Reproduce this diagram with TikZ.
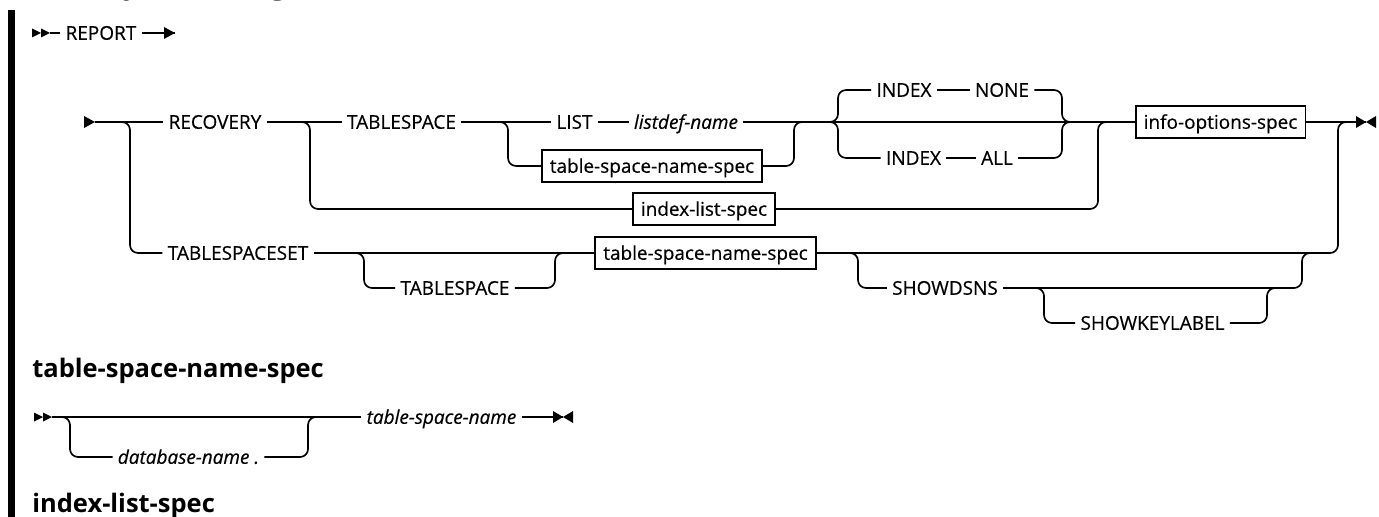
\documentclass[tikz,border=0pt]{standalone}
\usepackage{fontspec}
\setmainfont{Open Sans}
\newfontfamily\railfam{Open Sans}[FakeBold=0.5]
\usepackage{tikz}
\usetikzlibrary{arrows.meta}

\newcommand{\lblfont}{\railfam\fontsize{10.8}{13}\selectfont}
\newcommand{\headfont}{\fontsize{14.5}{17}\selectfont\bfseries}

\tikzset{
  rail/.style={line width=0.95pt, rounded corners=0.16cm},
  kw/.style={font=\lblfont, inner xsep=0.1cm, inner ysep=0pt, text height=7.7pt, text depth=0pt},
  var/.style={kw, font=\lblfont\itshape},
  specbox/.style={draw, line width=0.95pt, font=\lblfont, inner xsep=0.16cm, inner ysep=5.3pt, text height=7.7pt, text depth=0pt},
  head/.style={font=\headfont, anchor=base west, inner sep=0pt},
  fwd/.pic={\fill (-11,-6) -- (0,0) -- (-11,6) -- cycle;},
  twofwd/.pic={\fill (-18,-4.5) -- (-9,0) -- (-18,4.5) -- cycle;
               \fill (-9,-4.5) -- (0,0) -- (-9,4.5) -- cycle;},
  stopmark/.pic={\fill (-10,-6) -- (0,0) -- (-10,6) -- cycle;
                 \fill (10,-6) -- (0,0) -- (10,6) -- cycle;},
}

\begin{document}
\begin{tikzpicture}[x=0.02cm, y=-0.02cm]
  \useasboundingbox (0,0) rectangle (1379,517);

  % page bar and headings
  \fill (8,10) rectangle (15,517);
  \begin{scope}
    \clip (0,0) rectangle (1379,517);
    \node[font=\fontsize{18}{20}\selectfont\bfseries, anchor=base west, inner sep=0pt] (title) at (105,-6) {Syntax diagram};
  \end{scope}
  \node[head] (hspec) at (32,377) {table-space-name-spec};
  \node[head] (hlist) at (32,512) {index-list-spec};

  % REPORT
  \coordinate (s0) at (50,33);
  \coordinate (cont) at (175,33);
  \node[kw] (report) at (101,33) {REPORT};
  \pic at (s0) {twofwd};
  \pic at (cont) {fwd};
  \draw[rail] (s0) -- (report);
  \draw[rail] (report) -- (cont);

  % main row
  \coordinate (s1) at (95,122);
  \pic at (s1) {fwd};
  \node[kw] (recovery) at (215,122) {RECOVERY};
  \node[kw] (ts1) at (401.5,122) {TABLESPACE};
  \node[kw] (list) at (574.5,122) {LIST};
  \node[var] (listdef) at (686,122) {listdef-name};
  \node[specbox] (tsn1) at (652,166) {table-space-name-spec\hspace{0.1cm}};
  \node[kw] (idx1) at (904,90) {INDEX};
  \node[kw] (none) at (1002,90) {NONE};
  \node[kw] (idx2) at (913.5,158) {INDEX};
  \node[kw] (all) at (997,158) {ALL};
  \node[specbox] (ils) at (704,209) {index-list-spec\hspace{0.1cm}};
  \node[specbox] (info) at (1220.5,122) {info-options-spec\hspace{0.05cm}};
  \coordinate (stop1) at (1366,122);
  \pic at (stop1) {stopmark};

  \draw[rail] (s1) -- (recovery);
  \draw[rail] (recovery) -- (ts1);
  \draw[rail] (ts1) -- (list);
  \draw[rail] (list) -- (listdef);
  \draw[rail] (listdef.east) -- (info.west);
  \draw[rail] (info.east) -- (stop1);

  \coordinate (j2) at (300,122);
  \coordinate (j3) at (498,122);
  \coordinate (j4) at (828,122);
  \coordinate (k3) at (794,122);
  \coordinate (k4) at (1062,122);
  \coordinate (k5) at (1098,122);
  \draw[rail] (j3) -- ++(10,0) |- (tsn1.west);
  \draw[rail] (tsn1.east) -| (k3) -- ++(10,0);
  \draw[rail] (j4) -- ++(10,0) |- (idx1.west);
  \draw[rail] (j4) -- ++(10,0) |- (idx2.west);
  \draw[rail] (idx1) -- (none);
  \draw[rail] (idx2) -- (all);
  \draw[rail] (none.east) -| (k4) -- ++(10,0);
  \draw[rail] (all.east) -| (k4) -- ++(10,0);
  \draw[rail] (j2) -- ++(10,0) |- (ils.west);
  \draw[rail] (ils.east) -| (k5) -- ++(10,0);

  % TABLESPACESET row
  \coordinate (j1) at (120,122);
  \node[kw] (tss) at (238,253) {TABLESPACESET};
  \node[kw] (ts2) at (455,288) {TABLESPACE};
  \node[specbox] (tsn2) at (705.5,253) {table-space-name-spec\hspace{0.1cm}};
  \node[kw] (sd) at (945,288) {SHOWDSNS};
  \node[kw] (skl) at (1152.5,323) {SHOWKEYLABEL};
  \coordinate (j5) at (354,253);
  \coordinate (j6) at (848,253);
  \coordinate (j7) at (1034,288);
  \coordinate (k6) at (555,253);
  \coordinate (k7) at (1338,122);
  \coordinate (k8) at (1302,253);
  \coordinate (k9) at (1267,288);

  \draw[rail] (j1) -- ++(10,0) |- (tss.west);
  \draw[rail] (tss) -- (tsn2);
  \draw[rail] (j5) -- ++(10,0) |- (ts2.west);
  \draw[rail] (ts2.east) -| (k6) -- ++(10,0);
  \draw[rail] (tsn2.east) -| (k7) -- ++(10,0);
  \draw[rail] (j6) -- ++(10,0) |- (sd.west);
  \draw[rail] (sd.east) -| (k8) -- ++(10,0);
  \draw[rail] (j7) -- ++(10,0) |- (skl.west);
  \draw[rail] (skl.east) -| (k9) -- ++(10,0);

  % table-space-name-spec fragment
  \coordinate (s2) at (52,417);
  \pic at (s2) {twofwd};
  \node[var] (tsname) at (441.5,417) {table-space-name};
  \node[var] (db) at (188.5,457) {database-name .};
  \coordinate (j8) at (60,417);
  \coordinate (k10) at (308,417);
  \coordinate (stop2) at (563,417);
  \pic at (stop2) {stopmark};
  \draw[rail] (s2) -- (tsname);
  \draw[rail] (j8) -- ++(10,0) |- (db.west);
  \draw[rail] (db.east) -| (k10) -- ++(10,0);
  \draw[rail] (tsname.east) -- (stop2);
\end{tikzpicture}
\end{document}
